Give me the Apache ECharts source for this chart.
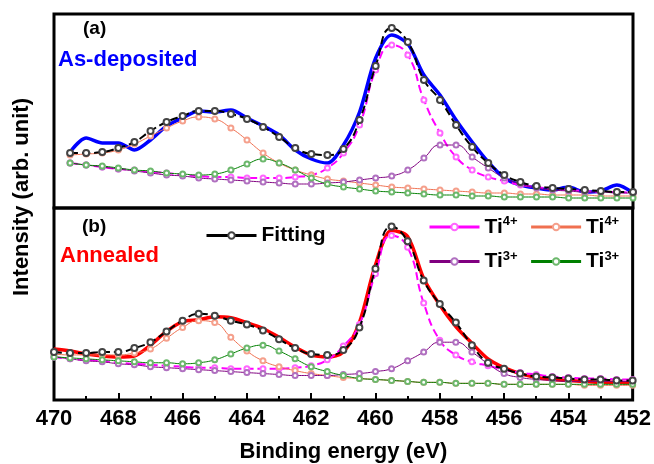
<!DOCTYPE html>
<html>
<head>
<meta charset="utf-8">
<script src="https://cdn.jsdelivr.net/npm/echarts@6/dist/echarts.min.js"></script>
<style>
html, body { margin: 0; padding: 0; background: #fff; }
#main { width: 654px; height: 464px; }
</style>
</head>
<body>
<div id="main"></div>
<script>
// binding energy (eV), panel (a) starts a bit later than panel (b)
var energyA = [469.5, 469, 468.5, 468, 467.5, 467, 466.5, 466, 465.5, 465, 464.5, 464, 463.5, 463, 462.5, 462, 461.5, 461,
	460.5, 460, 459.5, 459, 458.5, 458, 457.5, 457, 456.5, 456, 455.5, 455, 454.5, 454, 453.5, 453, 452.5, 452];
var energyB = [470, 469.5, 469, 468.5, 468, 467.5, 467, 466.5, 466, 465.5, 465, 464.5, 464, 463.5, 463, 462.5, 462, 461.5, 461,
	460.5, 460, 459.5, 459, 458.5, 458, 457.5, 457, 456.5, 456, 455.5, 455, 454.5, 454, 453.5, 453, 452.5, 452];

/** (a) As-deposited **/
var rawA = [56, 70, 65, 65, 58, 68, 82, 90, 97, 96, 98, 90, 82, 73, 58, 49, 45, 63, 96, 150, 173, 164, 133, 113, 88, 66, 46, 30, 23, 20, 18, 21, 16, 17, 23, 15];
var fitA = [55, 55, 56, 60, 66, 77, 86, 92, 97, 97, 94, 89, 81, 71, 60, 54, 53, 59, 88, 142, 180, 166, 128, 108, 83, 61, 45, 33, 26, 22, 20, 19, 18, 17, 16, 16];
var ti4MainA = [45, 43, 41, 39, 38, 36, 35, 33, 32, 31, 31, 30, 30, 30, 31, 33, 40, 55, 83, 138, 163, 153, 108, 75, 51, 38, 31, 27, 23, 21, 19, 18, 17, 16, 16, 15];
var ti4SatA = [53, 54, 55, 58, 64, 72, 80, 87, 91, 89, 80, 68, 55, 45, 38, 33, 29, 27, 25, 23, 21, 20, 19, 18, 17, 16, 15, 15, 14, 14, 13, 13, 13, 12, 12, 12];
var ti3MainA = [45, 43, 41, 39, 37, 35, 33, 32, 30, 29, 28, 27, 26, 25, 24, 24, 25, 26, 28, 30, 32, 38, 50, 63, 63, 51, 40, 30, 24, 20, 18, 17, 16, 16, 15, 15];
var ti3SatA = [45, 43, 42, 40, 38, 37, 35, 34, 33, 34, 38, 44, 49, 45, 38, 30, 24, 21, 19, 17, 16, 15, 14, 13, 13, 12, 12, 11, 11, 11, 11, 10, 10, 10, 10, 10];

/** (b) Annealed **/
var rawB = [52, 50, 47, 45, 44, 45, 56, 70, 80, 82, 85, 84, 79, 73, 64, 54, 46, 44, 49, 79, 138, 173, 167, 124, 97, 75, 58, 42, 33, 27, 23, 21, 20, 19, 18, 18, 17];
var fitB = [49, 48, 48, 49, 49, 53, 59, 70, 81, 88, 86, 81, 77, 71, 62, 53, 47, 46, 51, 74, 134, 177, 162, 122, 98, 79, 56, 38, 32, 27, 24, 23, 22, 21, 21, 20, 20];
var ti4MainB = [44, 42, 41, 40, 38, 37, 36, 35, 34, 33, 33, 32, 32, 32, 32, 33, 35, 41, 55, 77, 129, 168, 156, 99, 61, 46, 39, 35, 31, 28, 26, 24, 23, 22, 22, 21, 21];
var ti4SatB = [47, 46, 46, 46, 46, 48, 52, 63, 74, 81, 79, 64, 50, 40, 34, 30, 27, 25, 23, 22, 21, 20, 19, 18, 18, 17, 17, 17, 16, 16, 16, 16, 16, 15, 15, 15, 15];
var ti3MainB = [44, 42, 40, 39, 37, 36, 34, 33, 32, 31, 30, 29, 28, 27, 26, 25, 25, 25, 26, 27, 29, 32, 40, 49, 59, 59, 49, 37, 27, 23, 21, 20, 19, 19, 19, 19, 19];
var ti3SatB = [44, 43, 42, 41, 40, 39, 38, 38, 37, 38, 41, 47, 53, 56, 50, 42, 34, 29, 25, 22, 21, 20, 19, 18, 18, 17, 17, 17, 16, 16, 16, 16, 16, 16, 16, 16, 16];

var xTicks = [470, 468, 466, 464, 462, 460, 458, 456, 454, 452];

var font = '"Liberation Sans", Arial, sans-serif';

function pairs(xs, ys) {
	var out = [];
	for(var i = 0; i < xs.length; i++) {
		out.push([xs[i], ys[i]]);
	}
	return out;
}

// component curves: name, line colour, circle colour, dashed line?
var comps = [
	{ name: 'Ti4+ 2p3/2', line: '#ff00ff', dot: '#ff66ff', dashed: true, a: ti4MainA, b: ti4MainB },
	{ name: 'Ti4+ 2p1/2', line: '#f07050', dot: '#f5a08c', dashed: false, a: ti4SatA, b: ti4SatB },
	{ name: 'Ti3+ 2p3/2', line: '#800080', dot: '#b070c0', dashed: false, a: ti3MainA, b: ti3MainB },
	{ name: 'Ti3+ 2p1/2', line: '#008000', dot: '#6cb86c', dashed: false, a: ti3SatA, b: ti3SatB }
];

var series = [];

// measured spectra first so the fits sit on top
series.push({
	name: 'As-deposited', type: 'line', xAxisIndex: 0, yAxisIndex: 0,
	data: pairs(energyA, rawA), smooth: 0.3, symbol: 'none',
	lineStyle: { color: '#0000ff', width: 3.5 }, itemStyle: { color: '#0000ff' }, z: 2
});
series.push({
	name: 'Annealed', type: 'line', xAxisIndex: 1, yAxisIndex: 1,
	data: pairs(energyB, rawB), smooth: 0.3, symbol: 'none',
	lineStyle: { color: '#ff0000', width: 3.5 }, itemStyle: { color: '#ff0000' }, z: 2
});

for(var p = 0; p < 2; p++) {
	var xs = p === 0 ? energyA : energyB;
	for(var k = 0; k < comps.length; k++) {
		var c = comps[k];
		series.push({
			name: c.name, type: 'line', xAxisIndex: p, yAxisIndex: p,
			data: pairs(xs, p === 0 ? c.a : c.b), smooth: true,
			symbol: 'emptyCircle', symbolSize: 5, showAllSymbol: true,
			lineStyle: { color: c.line, width: c.dashed ? 2 : 1, type: c.dashed ? 'dashed' : 'solid' },
			itemStyle: { color: c.dot, borderWidth: 1 },
			z: 3
		});
	}
	series.push({
		name: 'Fitting', type: 'line', xAxisIndex: p, yAxisIndex: p,
		data: pairs(xs, p === 0 ? fitA : fitB), smooth: true,
		symbol: 'emptyCircle', symbolSize: 6, showAllSymbol: true,
		lineStyle: { color: '#000', width: 2, type: 'dashed' },
		itemStyle: { color: '#444', borderWidth: 1.2 },
		z: 4
	});
}

var legendNames = {
	'Fitting': '{b|Fitting}',
	'Ti4+ 2p3/2': '{b|Ti}{s|4+}',
	'Ti4+ 2p1/2': '{b|Ti}{s|4+}',
	'Ti3+ 2p3/2': '{b|Ti}{s|3+}',
	'Ti3+ 2p1/2': '{b|Ti}{s|3+}'
};
var legendText = {
	rich: {
		b: { fontSize: 21, fontWeight: 'bold', fontFamily: font, color: '#000', lineHeight: 24 },
		s: { fontSize: 13, fontWeight: 'bold', fontFamily: font, color: '#000', verticalAlign: 'top', lineHeight: 14 }
	}
};

var myChart = echarts.init(document.getElementById('main'));
var option = {
	backgroundColor: '#fff',
	animation: false,
	grid: [
		{ left: 54, right: 21, top: 14, height: 194, show: true, borderColor: '#000', borderWidth: 3 },
		{ left: 54, right: 21, top: 208, height: 196, show: true, borderColor: '#000', borderWidth: 3 }
	],
	xAxis: [{
		gridIndex: 0, type: 'value', min: 452, max: 470, interval: 2, inverse: true,
		axisLine: { show: false }, axisTick: { show: false }, axisLabel: { show: false }, splitLine: { show: false }
	}, {
		gridIndex: 1, type: 'value', min: 452, max: 470, interval: 2, inverse: true,
		name: 'Binding energy (eV)', nameLocation: 'middle', nameGap: 41,
		nameTextStyle: { fontSize: 22, fontWeight: 'bold', fontFamily: font, color: '#000' },
		axisLine: { show: false },
		axisTick: { inside: true, length: 7, lineStyle: { color: '#000', width: 2 } },
		minorTick: { show: true, splitNumber: 2, length: 4, lineStyle: { color: '#000', width: 2 } },
		axisLabel: {
			margin: 8, fontSize: 22, fontWeight: 'bold', fontFamily: font, color: '#000',
			formatter: function(v) { return xTicks.indexOf(v) >= 0 ? String(v) : ''; }
		},
		splitLine: { show: false }
	}],
	yAxis: [{
		gridIndex: 0, type: 'value', min: 0, max: 194,
		axisLine: { show: false }, axisTick: { show: false }, axisLabel: { show: false }, splitLine: { show: false }
	}, {
		gridIndex: 1, type: 'value', min: 0, max: 196,
		axisLine: { show: false }, axisTick: { show: false }, axisLabel: { show: false }, splitLine: { show: false }
	}],
	legend: [{
		data: ['Fitting'], left: 205, top: 225, padding: 0,
		itemWidth: 50, itemHeight: 8, selectedMode: false,
		lineStyle: { type: 'solid', width: 3 },
		formatter: function(n) { return legendNames[n]; },
		textStyle: legendText
	}, {
		data: ['Ti4+ 2p3/2', 'Ti4+ 2p1/2', 'Ti3+ 2p3/2', 'Ti3+ 2p1/2'],
		left: 428, top: 215, width: 200, padding: 0, itemGap: 12,
		itemWidth: 50, itemHeight: 8, selectedMode: false,
		lineStyle: { type: 'solid', width: 3 },
		formatter: function(n) { return legendNames[n]; },
		textStyle: legendText
	}],
	graphic: [
		{ type: 'text', left: 83, top: 19, style: { text: '(a)', font: 'bold 19px ' + font, fill: '#000' } },
		{ type: 'text', left: 58, top: 49, style: { text: 'As-deposited', font: 'bold 22px ' + font, fill: '#0000ff' } },
		{ type: 'text', left: 82, top: 217, style: { text: '(b)', font: 'bold 19px ' + font, fill: '#000' } },
		{ type: 'text', left: 60, top: 245, style: { text: 'Annealed', font: 'bold 22px ' + font, fill: '#ff0000' } },
		{
			type: 'text', x: 22, y: 197, rotation: Math.PI / 2,
			style: { text: 'Intensity (arb. unit)', font: 'bold 22px ' + font, fill: '#000', align: 'center', verticalAlign: 'middle' }
		}
	],
	series: series
};
myChart.setOption(option);

window.onresize = function() {
	myChart.resize();
};
</script>
</body>
</html>
